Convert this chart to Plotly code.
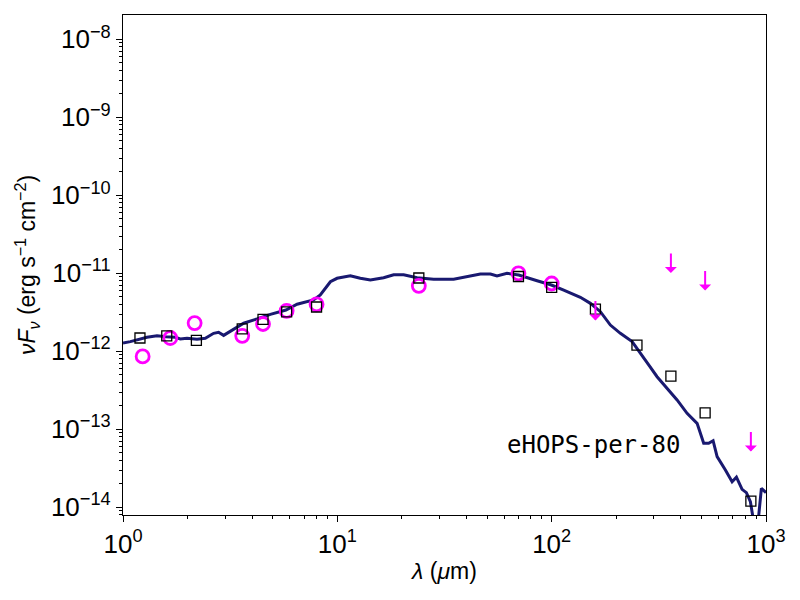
import numpy as np
import plotly.graph_objects as go

# model SED (wavelength in micron, nu F_nu in erg s^-1 cm^-2)
model_wave = [1.0, 1.082, 1.294, 1.441, 1.587, 1.754, 1.851, 1.989, 2.214, 2.421,
              2.647, 2.793, 2.947, 3.226, 3.655, 4.22, 4.87, 5.76, 6.49, 7.75,
              8.33, 9.28, 9.97, 11.5, 12.8, 14.26, 16.44, 18.31, 20.39, 23.55,
              28.14, 34.88, 40.3, 46.5, 51.8, 55.6, 61.9, 70.2, 85.5, 99.7,
              113.8, 136.1, 151.6, 168.8, 187.9, 209.2, 237.3, 264.2, 283.6, 310.3,
              345.6, 384.7, 428.4, 477.0, 512.0, 540.0, 566.5, 591.4, 646.5, 694.9,
              727.8, 773.5, 810.0, 845.6, 885.0, 910.0, 951.6, 1000.0]
model_flux = [1.28e-12, 1.33e-12, 1.51e-12, 1.58e-12, 1.54e-12, 1.51e-12, 1.44e-12, 1.47e-12, 1.43e-12, 1.47e-12,
              1.70e-12, 1.75e-12, 1.60e-12, 1.88e-12, 2.29e-12, 2.60e-12, 2.98e-12, 3.38e-12, 4.01e-12, 4.55e-12,
              5.27e-12, 7.8e-12, 8.63e-12, 9.31e-12, 8.63e-12, 8.2e-12, 8.79e-12, 9.6e-12, 9.6e-12, 8.79e-12,
              8.38e-12, 8.38e-12, 9.03e-12, 9.8e-12, 9.8e-12, 9.23e-12, 1.0e-11, 9.5e-12, 8.04e-12, 7.08e-12,
              6.1e-12, 4.92e-12, 4.12e-12, 3.22e-12, 2.17e-12, 1.70e-12, 1.33e-12, 8.97e-13, 6.68e-13, 4.72e-13,
              3.35e-13, 2.38e-13, 1.60e-13, 1.19e-13, 6.62e-14, 6.62e-14, 7.14e-14, 4.46e-14, 3.01e-14, 2.13e-14,
              2.43e-14, 1.70e-14, 1.54e-14, 1.18e-14, 5.5e-15, 5.0e-15, 1.75e-14, 1.54e-14]

# model photometry (squares)
synth_wave = [1.2, 1.6, 2.2, 3.6, 4.5, 5.8, 8.0, 24, 70, 100, 160, 250, 360, 520, 850]
synth_flux = [1.48e-12, 1.58e-12, 1.38e-12, 1.94e-12, 2.57e-12, 3.2e-12, 3.7e-12, 8.7e-12,
              9.1e-12, 6.6e-12, 3.48e-12, 1.2e-12, 4.8e-13, 1.62e-13, 1.2e-14]

# observed photometry (circles)
obs_wave = [1.235, 1.662, 2.159, 3.6, 4.5, 5.8, 8.0, 24, 70, 100]
obs_flux = [8.6e-13, 1.48e-12, 2.3e-12, 1.58e-12, 2.24e-12, 3.3e-12, 4.0e-12, 6.9e-12, 1.0e-11, 7.4e-12]

# upper limits (arrows)
lim_wave = [160, 360, 520, 850]
lim_flux = [4.4e-12, 1.8e-11, 1.07e-11, 9.2e-14]

# tick labels
x_tickvals = [1, 10, 100, 1000]
x_ticktext = ["10<sup>0</sup>", "10<sup>1</sup>", "10<sup>2</sup>", "10<sup>3</sup>"]
y_tickvals = [1e-14, 1e-13, 1e-12, 1e-11, 1e-10, 1e-9, 1e-8]
y_ticktext = ["10<sup>−14</sup>", "10<sup>−13</sup>", "10<sup>−12</sup>", "10<sup>−11</sup>",
              "10<sup>−10</sup>", "10<sup>−9</sup>", "10<sup>−8</sup>"]

source_name = "eHOPS-per-80"

# minor log ticks (2..9 in every decade)
x_minor = [m * d for d in x_tickvals[:-1] for m in range(2, 10)]
y_minor = [m * d for d in [1e-15] + y_tickvals[:-1] for m in range(2, 10)]

fig = go.Figure()

fig.add_trace(go.Scatter(x=model_wave, y=model_flux, mode="lines",
                         line=dict(color="#191970", width=3), showlegend=False))
fig.add_trace(go.Scatter(x=obs_wave, y=obs_flux, mode="markers",
                         marker=dict(symbol="circle-open", size=13, color="magenta",
                                     line=dict(width=2.8)),
                         showlegend=False))
fig.add_trace(go.Scatter(x=synth_wave, y=synth_flux, mode="markers",
                         marker=dict(symbol="square-open", size=10, color="black",
                                     line=dict(width=1.3)),
                         showlegend=False))

# upper limit arrows pointing down from the limit value
for w, f in zip(lim_wave, lim_flux):
    fig.add_annotation(x=np.log10(w), y=np.log10(f), text="", showarrow=True,
                       ax=0, ay=21, arrowside="start", arrowhead=2,
                       arrowsize=1.9, arrowwidth=2, arrowcolor="magenta")

fig.add_annotation(x=0.732, y=0.14, xref="paper", yref="paper", text=source_name,
                   xanchor="center", yanchor="middle", showarrow=False,
                   font=dict(family="DejaVu Sans Mono", size=24, color="black"))

axis_common = dict(type="log", showgrid=False, zeroline=False, showline=True,
                   linecolor="black", linewidth=1.2, mirror=True, automargin=False,
                   ticks="outside", ticklen=6, tickwidth=1.2, tickcolor="black",
                   tickfont=dict(family="Liberation Sans", size=26, color="black"))

fig.update_xaxes(**axis_common, range=[0, 3], tickvals=x_tickvals, ticktext=x_ticktext,
                 minor=dict(tickvals=x_minor, ticks="outside", ticklen=3, tickwidth=1,
                            tickcolor="black", showgrid=False),
                 title=dict(text="<i>λ</i> (<i>μ</i>m)", standoff=4,
                            font=dict(family="Liberation Sans", size=23, color="black")))
fig.update_yaxes(**axis_common, range=[-14.099, -7.688], tickvals=y_tickvals, ticktext=y_ticktext,
                 minor=dict(tickvals=y_minor, ticks="outside", ticklen=3, tickwidth=1,
                            tickcolor="black", showgrid=False),
                 title=dict(text="<i>νF</i><sub><i>ν</i></sub> (erg s<sup>−1</sup> cm<sup>−2</sup>)",
                            standoff=8,
                            font=dict(family="Liberation Sans", size=23, color="black")))

# page body adds an 8 px offset, margins compensate for it
fig.update_layout(width=800, height=600, margin=dict(l=115, r=42, t=7, b=93),
                  plot_bgcolor="white", paper_bgcolor="white")

fig.write_html("out.html")
